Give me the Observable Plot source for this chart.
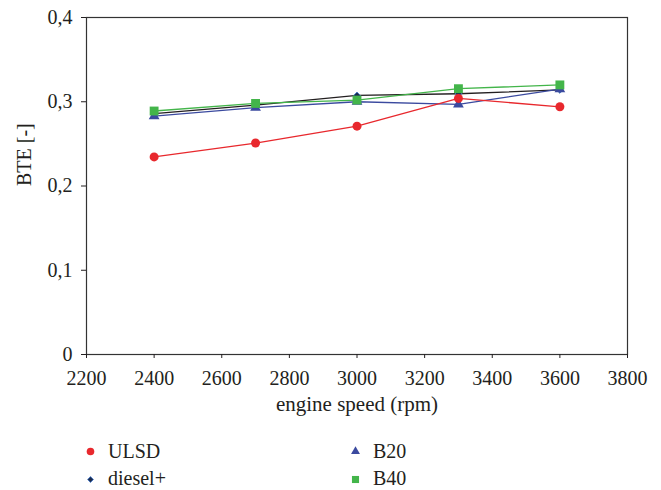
<!DOCTYPE html>
<html><head><meta charset="utf-8">
<script src="https://cdn.jsdelivr.net/npm/d3@7"></script>
<script src="https://cdn.jsdelivr.net/npm/@observablehq/plot@0.6"></script>
<style>
body{margin:0;background:#fff;font-family:'Liberation Serif';}
#wrap{position:relative;width:661px;height:490px;}
.legsym{position:absolute;}
.legtxt{position:absolute;font-family:'Liberation Serif';font-size:20px;line-height:20px;color:#231f20;white-space:nowrap;}
</style></head>
<body><div id="wrap"></div>
<script>
const rpm = [2400, 2700, 3000, 3300, 3600];
const series = ["ULSD", "diesel+", "B20", "B40"];
const ULSD = [0.2345, 0.251, 0.271, 0.304, 0.294];
const dieselPlus = [0.286, 0.296, 0.3075, 0.3095, 0.314];
const B20 = [0.283, 0.293, 0.300, 0.297, 0.315];
const B40 = [0.289, 0.298, 0.302, 0.3155, 0.320];
const xTicks = [2200, 2400, 2600, 2800, 3000, 3200, 3400, 3600, 3800];
const yTicks = [0, 0.1, 0.2, 0.3, 0.4];
const xLabel = "engine speed (rpm)";
const yLabel = "BTE [-]";

const FONT = "Liberation Serif";
const colors = {"ULSD": "#e8282d", "diesel+": "#231f20", "B20": "#3b4a9f", "B40": "#43b54a"};
const values = {"ULSD": ULSD, "diesel+": dieselPlus, "B20": B20, "B40": B40};
const symbols = {"ULSD": "circle", "diesel+": "diamond2", "B20": "triangle", "B40": "square"};
const sizes = {"ULSD": 4.5, "diesel+": 3, "B20": 4, "B40": 5};
const legSizes = {"ULSD": 3.8, "diesel+": 2.6, "B20": 3.3, "B40": 4};
const data = series.flatMap(s => rpm.map((x, i) => ({series: s, x, y: values[s][i]})));
const fmt = d => d === 0 ? "0" : d.toFixed(1).replace(".", ",");
const fillOf = s => s === "diesel+" ? "#1a2a4a" : colors[s];
const strokeOf = s => s === "diesel+" ? "#4a7ac8" : "none";

const drawOrder = ["diesel+", "B20", "ULSD", "B40"];
const marks = [
  Plot.frame({stroke: "#333", strokeWidth: 1.2}),
  Plot.axisX({ticks: xTicks, tickSize: 4, tickFormat: d => String(d), tickPadding: 12, fontSize: 20, fontFamily: FONT, label: null}),
  Plot.axisY({ticks: yTicks, tickSize: 5, tickFormat: fmt, tickPadding: 9, fontSize: 20, fontFamily: FONT, label: null}),
  Plot.text([xLabel], {text: d => d, frameAnchor: "bottom", dy: 56, fontSize: 21, fontFamily: FONT, fill: "#231f20"}),
  Plot.text([yLabel], {text: d => d, frameAnchor: "left", dx: -62, rotate: -90, fontSize: 20, fontFamily: FONT, fill: "#231f20"}),
];
for (const s of drawOrder) {
  const d = data.filter(r => r.series === s);
  marks.push(Plot.line(d, {x: "x", y: "y", stroke: colors[s], strokeWidth: 1.3}));
}
for (const s of drawOrder) {
  const d = data.filter(r => r.series === s);
  marks.push(Plot.dot(d, {x: "x", y: "y", symbol: () => symbols[s], fill: fillOf(s),
    stroke: strokeOf(s), strokeWidth: 1, r: sizes[s]}));
}

const chart = Plot.plot({
  width: 661, height: 420,
  marginTop: 17, marginBottom: 66, marginLeft: 86, marginRight: 34,
  style: {fontFamily: FONT, fontSize: "20px", color: "#231f20", background: "#fff"},
  x: {domain: [2200, 3800]},
  y: {domain: [0, 0.4]},
  symbol: {type: "identity"},
  marks
});
const wrap = document.getElementById("wrap");
wrap.appendChild(chart);

// legend: symbol centre [x, y], text [left, top]
const legSym = {"ULSD": [90, 451], "diesel+": [90, 479], "B20": [355, 451], "B40": [355, 479]};
const legTxt = {"ULSD": [108, 441], "diesel+": [108, 468], "B20": [373, 441], "B40": [373, 468]};
for (const s of series) {
  const sym = Plot.plot({width: 16, height: 16, margin: 0, axis: null,
    x: {domain: [0, 1]}, y: {domain: [0, 1]}, symbol: {type: "identity"},
    marks: [Plot.dot([0], {x: () => 0.5, y: () => 0.5, symbol: () => symbols[s],
      fill: fillOf(s), stroke: strokeOf(s), strokeWidth: 1, r: legSizes[s]})]});
  sym.classList.add("legsym");
  sym.style.left = (legSym[s][0] - 8) + "px";
  sym.style.top = (legSym[s][1] - 8) + "px";
  wrap.appendChild(sym);
  const t = document.createElement("div");
  t.className = "legtxt";
  t.textContent = s;
  t.style.left = legTxt[s][0] + "px";
  t.style.top = legTxt[s][1] + "px";
  wrap.appendChild(t);
}
</script></body></html>
